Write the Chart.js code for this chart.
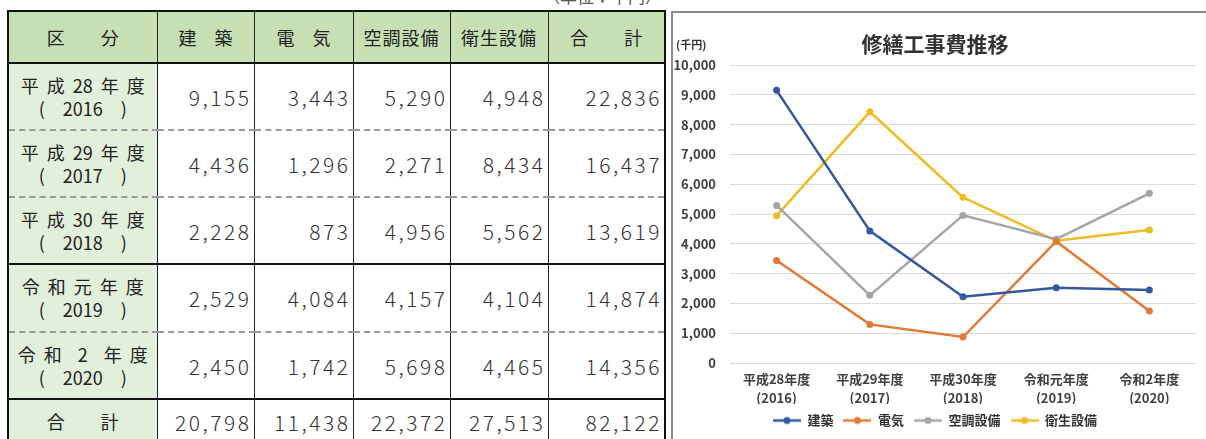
<!DOCTYPE html>
<html>
<head>
<meta charset="utf-8">
<script src="https://cdn.jsdelivr.net/npm/chart.js@4.4.1/dist/chart.umd.min.js"></script>
<style>
body{margin:0;width:1206px;height:439px;overflow:hidden;background:#fff;font-family:"Noto Sans CJK JP",sans-serif;position:relative}
#unitTop{position:absolute;left:470px;top:-17px;width:192px;text-align:right;font-size:17px;color:#555}
#tbl{position:absolute;left:7px;top:10px;border-collapse:collapse;table-layout:fixed;border:2px solid #111;color:#222}
#tbl th,#tbl td{border-left:1px solid #222;border-right:1px solid #222;padding:0;white-space:nowrap}
#tbl th{background:#c6e0b4;font-size:18px;font-weight:normal;text-align:center;height:50px;border-bottom:2px solid #111}
#tbl td.rh{background:#e2efda;text-align:center;font-size:18px;line-height:23px;word-spacing:4px}
#tbl td.num{text-align:right;padding-right:2px;font-size:21px;letter-spacing:2.5px;font-weight:300;color:#333}
#tbl tr.dash td{border-bottom:2px dashed #9a9a9a}
#tbl tr.solid td{border-bottom:2px solid #111}
#box{position:absolute;left:671px;top:11px;width:560px;height:460px;border:2px solid #8c8c8c;box-sizing:border-box}
#wrap{position:absolute;left:674px;top:13px;width:532px;height:426px}
#unit{position:absolute;left:676px;top:36px;font-size:11px;font-weight:bold;color:#333}
</style>
</head>
<body>
<div id="unitTop">（単位：千円）</div>
<table id="tbl"></table>
<div id="box"></div>
<div id="wrap"><canvas id="chart1"></canvas></div>
<div id="unit">(千円)</div>
<script>
var years = ['平成28年度', '平成29年度', '平成30年度', '令和元年度', '令和2年度'];
var yearsAD = ['(2016)', '(2017)', '(2018)', '(2019)', '(2020)'];
var rowNames = ['平 成 28 年 度', '平 成 29 年 度', '平 成 30 年 度', '令 和 元 年 度', '令 和 \u00a02\u00a0 年 度'];
var rowYears = ['(　2016　)', '(　2017　)', '(　2018　)', '(　2019　)', '(　2020　)'];
var seriesNames = ['建築', '電気', '空調設備', '衛生設備'];
var kenchiku = [9155, 4436, 2228, 2529, 2450];
var denki = [3443, 1296, 873, 4084, 1742];
var kuchou = [5290, 2271, 4956, 4157, 5698];
var eisei = [4948, 8434, 5562, 4104, 4465];
var rowTotals = [22836, 16437, 13619, 14874, 14356];
var colTotals = [20798, 11438, 22372, 27513, 82122];
var headers = ['区　　分', '建　築', '電　気', '空調設備', '衛生設備', '合　　計'];
var yTicks = [0, 1000, 2000, 3000, 4000, 5000, 6000, 7000, 8000, 9000, 10000];

var FONT = '"Noto Sans CJK JP", sans-serif';
var colors = ['#34589e', '#e27a36', '#a5a5a5', '#f0ba22'];

function fmt(n){ return n.toLocaleString('en-US'); }

//builds the table on the left
function drawTable(){
	var t = document.getElementById('tbl');
	var widths = [149, 97, 99, 97, 98, 117];
	var heights = [67, 67, 67, 68, 67];
	var cols = '<colgroup>';
	for (var i = 0; i < widths.length; i++) cols += '<col style="width:' + widths[i] + 'px">';
	cols += '</colgroup>';
	var h = '<tr>';
	for (var i = 0; i < headers.length; i++)
		h += '<th' + (i >= 3 && i <= 4 ? ' style="letter-spacing:1px"' : '') + '>' + headers[i] + '</th>';
	h += '</tr>';
	var all = [kenchiku, denki, kuchou, eisei];
	var body = '';
	for (var r = 0; r < years.length; r++) {
		//row 3 and row 5 have a solid line under them, rest dashed
		var cls = (r == 2 || r == 4) ? 'solid' : 'dash';
		body += '<tr class="' + cls + '" style="height:' + heights[r] + 'px">';
		body += '<td class="rh">' + rowNames[r] + '<br>' + rowYears[r] + '</td>';
		for (var s = 0; s < all.length; s++) body += '<td class="num">' + fmt(all[s][r]) + '</td>';
		body += '<td class="num">' + fmt(rowTotals[r]) + '</td></tr>';
	}
	body += '<tr style="height:45px"><td class="rh">合　　計</td>';
	for (var c = 0; c < colTotals.length; c++) body += '<td class="num">' + fmt(colTotals[c]) + '</td>';
	body += '</tr>';
	t.innerHTML = cols + h + body;
}

//little line+dot picture for the legend
function swatch(col){
	var c = document.createElement('canvas');
	c.width = 28; c.height = 10;
	var x = c.getContext('2d');
	x.strokeStyle = col; x.lineWidth = 2.5;
	x.beginPath(); x.moveTo(0, 5); x.lineTo(28, 5); x.stroke();
	x.fillStyle = col;
	x.beginPath(); x.arc(14, 5, 3.5, 0, Math.PI * 2); x.fill();
	return c;
}

function drawChart(){
	var vals = [kenchiku, denki, kuchou, eisei];
	var sw = colors.map(swatch);
	var ds = [];
	for (var i = 0; i < seriesNames.length; i++) {
		ds.push({
			label: seriesNames[i],
			data: vals[i],
			borderColor: colors[i],
			backgroundColor: colors[i],
			borderWidth: 2.5,
			pointRadius: 3.5,
			pointBorderWidth: 0,
			tension: 0
		});
	}
	new Chart(document.getElementById('chart1'), {
		type: 'line',
		data: {
			labels: years.map(function(y, i){ return [y, yearsAD[i]]; }),
			datasets: ds
		},
		options: {
			responsive: true,
			maintainAspectRatio: false,
			animation: false,
			layout: {padding: {top: 0, right: 10, bottom: 2, left: 0}},
			plugins: {
				title: {display: true, text: '修繕工事費推移', color: '#333',
					font: {family: FONT, size: 21, weight: 'bold'}, padding: {top: 18, bottom: 9}},
				legend: {position: 'bottom',
					labels: {usePointStyle: true, pointStyleWidth: 28, boxHeight: 10, padding: 10,
						color: '#333', font: {family: FONT, size: 13, weight: 'bold'},
						generateLabels: function(chart){
							var items = Chart.defaults.plugins.legend.labels.generateLabels(chart);
							items.forEach(function(it, i){ it.pointStyle = sw[i]; });
							return items;
						}}},
				tooltip: {enabled: false}
			},
			scales: {
				x: {offset: true, grid: {display: false, drawTicks: false}, border: {display: false},
					ticks: {color: '#404040', font: {family: FONT, size: 13, weight: 'bold', lineHeight: 1.46},
						padding: 7, maxRotation: 0, autoSkip: false},
					afterFit: function(s){ s.height = 41; }},
				y: {min: 0, max: 10000,
					afterBuildTicks: function(s){ s.ticks = yTicks.map(function(v){ return {value: v}; }); },
					ticks: {color: '#404040', font: {family: FONT, size: 13, weight: 'bold'}, padding: 14,
						callback: function(v){ return fmt(v); }},
					grid: {color: '#d9d9d9', drawTicks: false}, border: {display: false},
					afterFit: function(s){ s.width = 56; }}
			}
		}
	});
}

drawTable();
drawChart();
</script>
</body>
</html>
